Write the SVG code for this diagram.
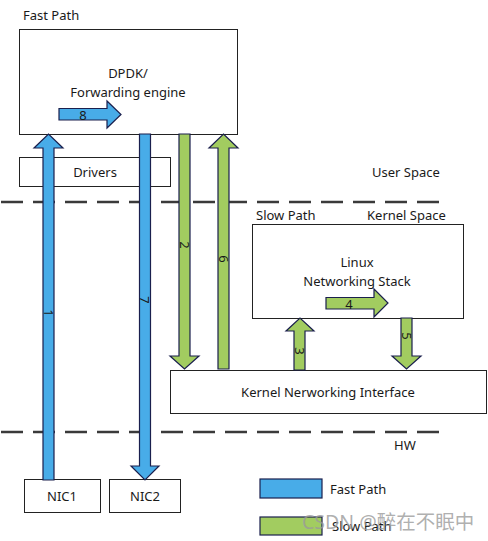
<svg xmlns="http://www.w3.org/2000/svg" width="488" height="541" viewBox="0 0 488 541">
<style>
.box{fill:#fff;stroke:#222;stroke-width:1}
.t{font-family:"Noto Sans","Open Sans","DejaVu Sans",sans-serif;font-size:13px;fill:#1a1a1a}
.c{text-anchor:middle}
.n{font-family:"Noto Sans","Open Sans","DejaVu Sans",sans-serif;font-size:13px;fill:#1a1a1a;text-anchor:middle;dominant-baseline:central}
.blue{fill:#48ACE8;stroke:#1a1f4d;stroke-width:1.2;stroke-linejoin:miter}
.green{fill:#A2CC60;stroke:#1a1f4d;stroke-width:1.2;stroke-linejoin:miter}
.dash{stroke:#3a3a3a;stroke-width:2.5;stroke-dasharray:22 10;fill:none}
</style>
<rect width="488" height="541" fill="#fff"/>
<g id="dividers">
<line class="dash" x1="1" y1="202" x2="439" y2="202"/>
<line class="dash" x1="1" y1="432" x2="439" y2="432"/>
</g>
<g id="labels">
<text class="t" x="23" y="20">Fast Path</text>
<text class="t" x="372" y="177">User Space</text>
<text class="t" x="256" y="220">Slow Path</text>
<text class="t" x="367" y="220">Kernel Space</text>
<text class="t" x="394" y="450">HW</text>
</g>
<g id="dpdk">
<rect class="box" x="19.5" y="29.5" width="218" height="105"/>
<text class="t c" x="128" y="78">DPDK/</text>
<text class="t c" x="128" y="97">Forwarding engine</text>
</g>
<g id="drivers">
<rect class="box" x="19.5" y="157.5" width="151" height="29"/>
<text class="t c" x="95" y="177">Drivers</text>
</g>
<g id="linux">
<rect class="box" x="252.5" y="224.5" width="211" height="94"/>
<text class="t c" x="357" y="267">Linux</text>
<text class="t c" x="357" y="286">Networking Stack</text>
</g>
<g id="kni">
<rect class="box" x="170.5" y="370.5" width="316" height="43"/>
<text class="t c" x="328" y="397">Kernel Nerworking Interface</text>
</g>
<g id="nic1">
<rect class="box" x="24.5" y="479.5" width="76" height="33"/>
<text class="t c" x="62" y="501">NIC1</text>
</g>
<g id="nic2">
<rect class="box" x="109.5" y="479.5" width="71" height="33"/>
<text class="t c" x="145" y="501">NIC2</text>
</g>
<g id="connectors">
<polygon class="blue" points="43,480 43,148 34,148 48.5,134 63,148 54,148 54,480"/>
<text class="n" transform="translate(48.5,313) rotate(90)">1</text>
<polygon class="blue" points="139.5,134 139.5,466 131,466 145,480 159,466 150.5,466 150.5,134"/>
<text class="n" transform="translate(145,300) rotate(90)">7</text>
<polygon class="green" points="179,134 179,356 170,356 184.5,369 199,356 190,356 190,134"/>
<text class="n" transform="translate(184.5,245) rotate(90)">2</text>
<polygon class="green" points="218,369 218,148 209,148 223.5,134 238,148 229,148 229,369"/>
<text class="n" transform="translate(223.5,259) rotate(90)">6</text>
<polygon class="green" points="294,370 294,331 286,331 300,318 314,331 305,331 305,370"/>
<text class="n" transform="translate(299.5,351) rotate(90)">3</text>
<polygon class="green" points="401,318 401,356 392,356 406.5,369 421,356 412,356 412,318"/>
<text class="n" transform="translate(406.5,336) rotate(90)">5</text>
<polygon class="blue" points="59,108.5 107,108.5 107,101 121,114.5 107,128 107,120 59,120"/>
<text class="n" x="83" y="115">8</text>
<polygon class="green" points="326,297.5 374,297.5 374,289 388,303 374,317 374,309 326,309"/>
<text class="n" x="349" y="304">4</text>
</g>
<g id="legend">
<rect class="blue" x="260" y="479" width="62" height="19"/>
<text class="t" x="330" y="494">Fast Path</text>
<rect class="green" x="260" y="517" width="62" height="18"/>
<text class="t" x="332" y="531">Slow Path</text>
</g>
<text x="302" y="529" font-family="'Noto Sans','Noto Sans CJK SC',sans-serif" font-size="19.5" fill="#9a9a9a" fill-opacity="0.8">CSDN @醉在不眠中</text>
</svg>
